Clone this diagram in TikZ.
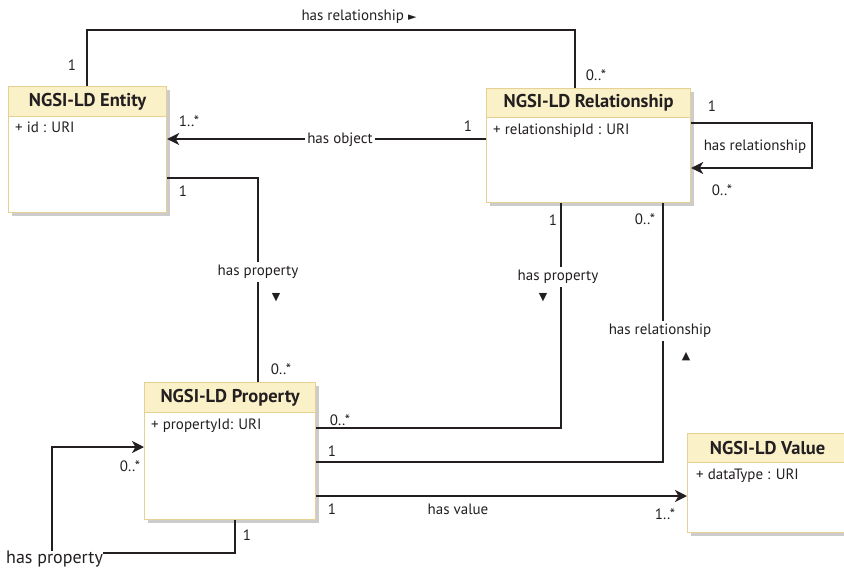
\documentclass[tikz,border=0pt]{standalone}
\usepackage{fontspec}
\setmainfont{PT Sans}
\newfontfamily\symfont{DejaVu Sans}
\usetikzlibrary{arrows.meta,calc,shadows}

\definecolor{ink}{HTML}{231F20}
\definecolor{headfill}{HTML}{FBF1C9}
\definecolor{boxline}{HTML}{E5D293}

\tikzset{
  classbody/.style={draw=boxline, line width=1.2pt, fill=white, inner sep=0pt,
    anchor=north west,
    drop shadow={shadow xshift=3pt, shadow yshift=-3pt, fill=black!20, opacity=1}},
  classhead/.style={draw=boxline, line width=1.2pt, fill=headfill, inner sep=0pt,
    anchor=north west, font=\fontsize{18.5}{20}\selectfont\bfseries, text=ink},
  attr/.style={anchor=north west, inner sep=0pt, font=\fontsize{15}{17}\selectfont, text=ink},
  lbl/.style={inner sep=1pt, font=\fontsize{15}{17}\selectfont, text=ink},
  gaplbl/.style={lbl, fill=white, inner sep=2pt},
  mult/.style={inner sep=0pt, font=\fontsize{15}{17}\selectfont, text=ink},
  tri/.style={inner sep=0pt, font=\symfont\fontsize{11}{12}\selectfont, text=ink},
  assoc/.style={draw=ink, line width=2.3pt},
  navarrow/.style={assoc, -{Stealth[length=12pt, width=12pt, inset=3.5pt]}},
}

\begin{document}
\begin{tikzpicture}[x=1pt, y=-1pt]
\useasboundingbox (0,0) rectangle (844,568);
\clip (0,0) rectangle (844,568);

% ---- classes ----
\node[classbody, minimum width=158pt, minimum height=126pt] (ent) at (8,86) {};
\node[classhead, minimum width=158pt, minimum height=30pt] (enth) at (ent.north west) {NGSI-LD Entity};
\node[attr] (enta) at ($(ent.north west)+(7,36)$) {+ id : URI};

\node[classbody, minimum width=204pt, minimum height=114pt] (rel) at (486,88) {};
\node[classhead, minimum width=204pt, minimum height=29pt] (relh) at (rel.north west) {NGSI-LD Relationship};
\node[attr] (rela) at ($(rel.north west)+(7,36)$) {+ relationshipId : URI};

\node[classbody, minimum width=171pt, minimum height=137pt] (prop) at (144,382) {};
\node[classhead, minimum width=171pt, minimum height=30pt] (proph) at (prop.north west) {NGSI-LD Property};
\node[attr] (propa) at ($(prop.north west)+(7,37)$) {+ propertyId: URI};

\node[classbody, minimum width=160pt, minimum height=99pt] (val) at (687,433) {};
\node[classhead, minimum width=160pt, minimum height=29pt] (valh) at (val.north west) {NGSI-LD Value};
\node[attr] (vala) at ($(val.north west)+(9,36)$) {+ dataType : URI};

% ---- Entity --has relationship--> Relationship ----
\draw[assoc] (ent.north -| 87,0) |- (575,30) -- (rel.north -| 575,0);
\node[lbl] (l1) at (359,17) {has relationship {\symfont\fontsize{11}{12}\selectfont ►}};
\node[mult] (m1a) at (72,65) {1};
\node[mult] (m1b) at (596,75) {0..*};

% ---- Relationship --has object--> Entity ----
\draw[navarrow] (rel.west |- 0,139) -- (ent.east |- 0,139);
\node[gaplbl] (l2) at (340,140) {has object};
\node[mult] (m2a) at (468,126) {1};
\node[mult] (m2b) at (189,121) {1..*};

% ---- Relationship self association ----
\coordinate (s1) at (812,123);
\coordinate (s2) at (812,168);
\draw[navarrow] (rel.east |- s1) -- (s1) -- (s2) -- (rel.east |- s2);
\node[lbl, fill=white] (l3) at (755,147) {has relationship};
\node[mult] (m3a) at (712,106) {1};
\node[mult] (m3b) at (722,190) {0..*};

% ---- Entity --has property--> Property ----
\draw[assoc] (ent.east |- 0,178) -| (prop.north -| 258,0);
\node[gaplbl, inner ysep=3pt] (l4) at (258,272) {has property};
\node[tri] (t4) at (276,298) {▼};
\node[mult] (m4a) at (183,191) {1};
\node[mult] (m4b) at (281,369) {0..*};

% ---- Relationship --has property--> Property ----
\draw[assoc] (rel.south -| 561,0) |- (prop.east |- 0,428);
\node[gaplbl, inner ysep=3pt] (l5) at (558,277) {has property};
\node[tri] (t5) at (543,298) {▼};
\node[mult] (m5a) at (553,220) {1};
\node[mult] (m5b) at (340,420) {0..*};

% ---- Property --has relationship--> Relationship ----
\draw[assoc] (rel.south -| 663,0) |- (prop.east |- 0,462);
\node[gaplbl, inner ysep=3pt] (l6) at (660,331) {has relationship};
\node[tri] (t6) at (686,357) {▲};
\node[mult] (m6a) at (645,219) {0..*};
\node[mult] (m6b) at (332,451) {1};

% ---- Property --has value--> Value ----
\draw[navarrow] (prop.east |- 0,496) -- (val.west |- 0,496);
\node[lbl] (l7) at (458,509) {has value};
\node[mult] (m7a) at (332,509) {1};
\node[mult] (m7b) at (665,514) {1..*};

% ---- Property self association ----
\node[lbl, anchor=west, inner sep=0pt, font=\fontsize{18}{20}\selectfont] (l8) at (6,559) {has property};
\draw[assoc] (prop.south -| 235,0) |- (l8.east |- 0,553);
\draw[navarrow] (l8.north -| 52,0) |- (prop.west |- 0,447);
\node[mult] (m8a) at (130,466) {0..*};
\node[mult] (m8b) at (247,535) {1};
\end{tikzpicture}
\end{document}
